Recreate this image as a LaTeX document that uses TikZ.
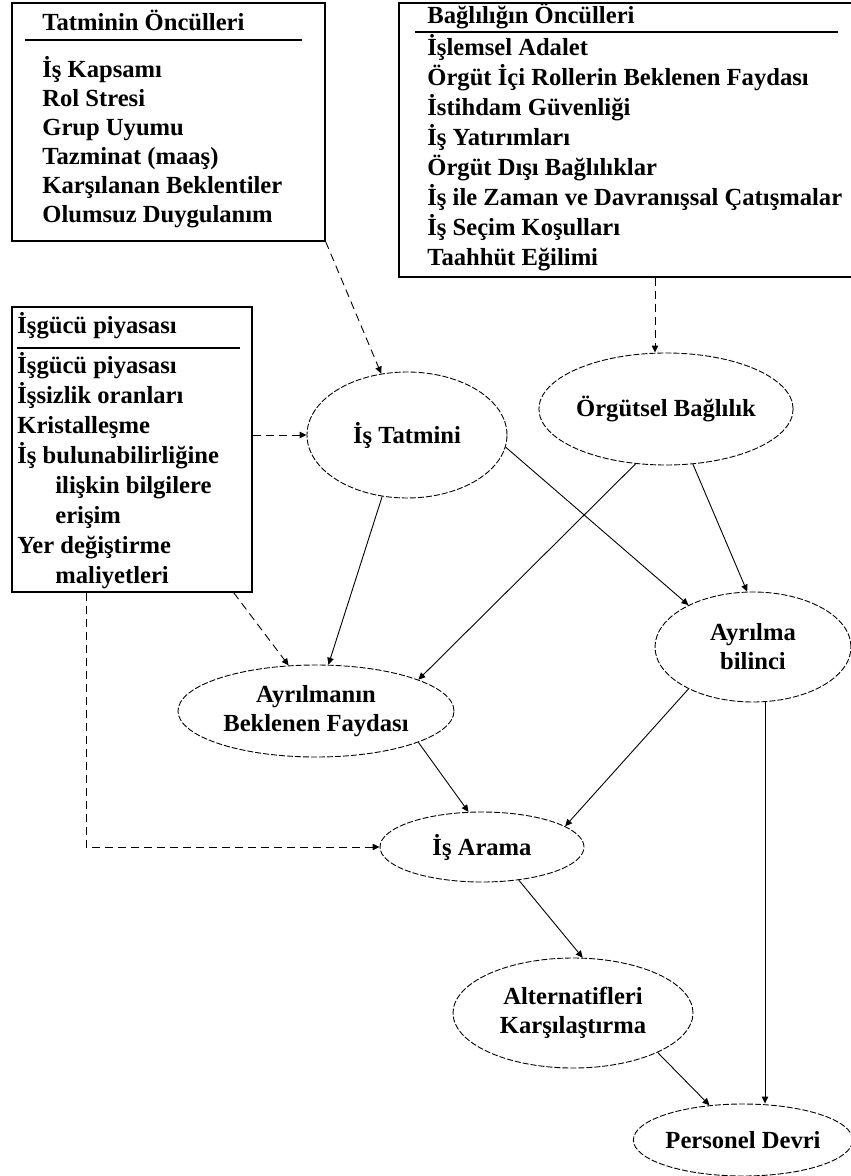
\documentclass[tikz,border=0pt]{standalone}
\usepackage{fontspec}
\setmainfont{Liberation Serif}
\usetikzlibrary{positioning, arrows.meta, shapes.geometric}

\begin{document}
\begin{tikzpicture}[
        x=0.5pt, y=-0.5pt,
        box/.style={rectangle, draw, line width=0.7pt, inner sep=0pt},
        item/.style={anchor=base west, inner sep=0pt, font=\fontsize{12.3}{14.5}\selectfont\bfseries},
        factor/.style={ellipse, draw, line width=0.45pt, dash pattern=on 3pt off 1pt, inner sep=0pt, align=center, font=\fontsize{12.3}{14.5}\selectfont\bfseries},
        rule/.style={line width=0.8pt},
        arr/.style={-{Triangle[length=3.5pt, width=3.2pt]}, line width=0.45pt},
        darr/.style={arr, dash pattern=on 4pt off 2.5pt}
    ]
        \useasboundingbox[fill=white] (0,0) rectangle (850,1176);

        % Antecedent boxes
        \node[box, minimum width=156.5pt, minimum height=119pt] (tatminbox) at (168.5,122) {};
        \node[box, minimum width=227pt, minimum height=137pt] (baglilikbox) at (626,140) {};
        \node[box, minimum width=120pt, minimum height=142.5pt] (isgucubox) at (132,449.5) {};

        % Box contents
        \node[item] (tatmintitle) at (42,31) {Tatminin Öncülleri};
        \draw[rule] (25,40) -- (302,40);
        \foreach \txt [count=\i from 0] in {İş Kapsamı, Rol Stresi, Grup Uyumu, Tazminat (maaş), Karşılanan Beklentiler, Olumsuz Duygulanım}
            \node[item] (tatmin\i) at (42, 78+29*\i) {\txt};

        \node[item] (bagliliktitle) at (427,24) {Bağlılığın Öncülleri};
        \draw[rule] (415,32) -- (838,32);
        \foreach \txt [count=\i from 0] in {İşlemsel Adalet, Örgüt İçi Rollerin Beklenen Faydası, İstihdam Güvenliği, İş Yatırımları, Örgüt Dışı Bağlılıklar, İş ile Zaman ve Davranışsal Çatışmalar, İş Seçim Koşulları, Taahhüt Eğilimi}
            \node[item] (baglilik\i) at (427, 56+30*\i) {\txt};

        \node[item] (isgucutitle) at (17,334) {İşgücü piyasası};
        \draw[rule] (17,348) -- (240,348);
        \foreach \xx/\txt [count=\i from 0] in {17/İşgücü piyasası, 17/İşsizlik oranları, 17/Kristalleşme, 17/İş bulunabilirliğine, 55/ilişkin bilgilere, 55/erişim, 17/Yer değiştirme, 55/maliyetleri}
            \node[item] (isgucu\i) at (\xx, 373+30*\i) {\txt};

        % Model
        \node[factor, minimum width=100pt, minimum height=63pt] (istatmin) at (407,435) {İş Tatmini};
        \node[factor, minimum width=121pt, minimum height=56pt] (orgutsel) at (666,409) {Örgütsel Bağlılık};
        \node[factor, minimum width=98pt, minimum height=55pt] (ayrilma) at (753,647) {Ayrılma\\bilinci};
        \node[factor, minimum width=138pt, minimum height=46pt] (fayda) at (316,711) {Ayrılmanın\\Beklenen Faydası};
        \node[factor, minimum width=102pt, minimum height=35pt] (isarama) at (482,847) {İş Arama};
        \node[factor, minimum width=120pt, minimum height=55pt] (alternatif) at (573,1013) {Alternatifleri\\Karşılaştırma};
        \node[factor, minimum width=106pt, minimum height=36pt] (personel) at (743,1140) {Personel Devri};

        % Dashed arrows from boxes
        \coordinate (bt) at ([xshift=-5.5pt]orgutsel.north);
        \draw[darr] (tatminbox.south east) -- (istatmin);
        \draw[darr] (baglilikbox.south -| bt) -- (bt);
        \draw[darr] (isgucubox.east |- istatmin) -- (istatmin);
        \draw[darr] ([xshift=-9.5pt]isgucubox.south east) -- (fayda.121);
        \draw[darr] ([xshift=37.5pt]isgucubox.south west) |- (isarama.west);

        % Solid arrows
        \draw[arr] (istatmin.248) -- (fayda.75);
        \draw[arr] (istatmin.353) -- (ayrilma.147);
        \draw[arr] (orgutsel.241) -- (fayda.17);
        \draw[arr] (orgutsel.296) -- (ayrilma.96);
        \draw[arr] (fayda.343) -- (isarama.111);
        \draw[arr] (ayrilma.213) -- (isarama.14);
        \draw[arr] (isarama.318) -- (alternatif.80);
        \coordinate (vt) at ([xshift=6pt]ayrilma.south);
        \draw[arr] (vt) -- (vt |- personel.north);
        \draw[arr] (alternatif.335) -- (personel.134);
    \end{tikzpicture}
\end{document}
